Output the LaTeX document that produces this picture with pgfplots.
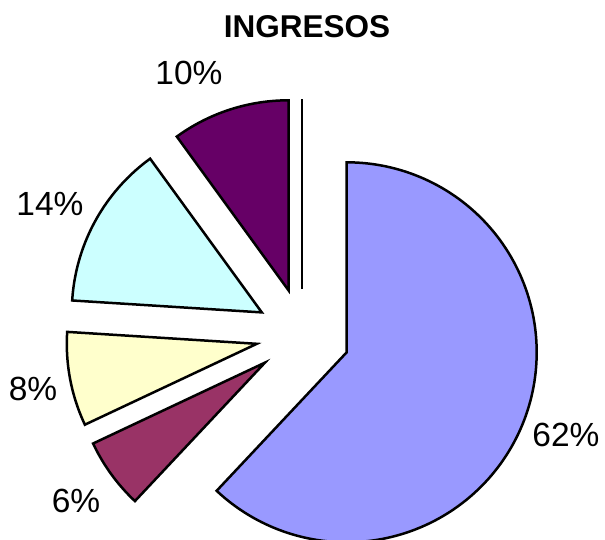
\documentclass[border=0pt]{standalone}
\usepackage{pgfplots}
\pgfplotsset{compat=1.18}
\usepackage{fontspec}
\setmainfont{Liberation Sans}
\definecolor{cA}{HTML}{9999FF}
\definecolor{cB}{HTML}{993366}
\definecolor{cC}{HTML}{FFFFCC}
\definecolor{cD}{HTML}{CCFFFF}
\definecolor{cE}{HTML}{660066}
\begin{document}
\begin{tikzpicture}
\begin{axis}[scale only axis, width=605pt, height=539pt,
  xmin=0, xmax=605, ymin=0, ymax=539, hide axis, clip=false]
% slices: 62, 6, 8, 14, 10, 0 (percent), clockwise from 12 o'clock, exploded
\addplot[fill=cA, draw=black, line width=2.5pt, domain=90-3.6*62:90, samples=150]
  ({346.7+190*cos(x)},{186.7+190*sin(x)}) -- (axis cs:346.7,186.7) -- cycle;
\addplot[fill=cB, draw=black, line width=2.5pt, domain=90-3.6*68:90-3.6*62, samples=30]
  ({265.0+190*cos(x)},{176.4+190*sin(x)}) -- (axis cs:265.0,176.4) -- cycle;
\addplot[fill=cC, draw=black, line width=2.5pt, domain=90-3.6*76:90-3.6*68, samples=30]
  ({256.8+190*cos(x)},{195.2+190*sin(x)}) -- (axis cs:256.8,195.2) -- cycle;
\addplot[fill=cD, draw=black, line width=2.5pt, domain=90-3.6*90:90-3.6*76, samples=50]
  ({261.8+190*cos(x)},{226.6+190*sin(x)}) -- (axis cs:261.8,226.6) -- cycle;
\addplot[fill=cE, draw=black, line width=2.5pt, domain=90-3.6*100:90-3.6*90, samples=40]
  ({288.5+190*cos(x)},{248.7+190*sin(x)}) -- (axis cs:288.5,248.7) -- cycle;
\addplot[draw=black, line width=2.8pt] coordinates {(302,250) (302,440)};
% labels
\node[anchor=base, font=\bfseries\fontsize{31.5}{36}\selectfont] at (axis cs:307,501) {INGRESOS};
\node[anchor=base, font=\fontsize{33.5}{40}\selectfont] at (axis cs:566,93) {62\%};
\node[anchor=base, font=\fontsize{33.5}{40}\selectfont] at (axis cs:76,27) {6\%};
\node[anchor=base, font=\fontsize{33.5}{40}\selectfont] at (axis cs:33,139) {8\%};
\node[anchor=base, font=\fontsize{33.5}{40}\selectfont] at (axis cs:50,324) {14\%};
\node[anchor=base, font=\fontsize{33.5}{40}\selectfont] at (axis cs:189,454) {10\%};
\end{axis}
\pgfresetboundingbox
\path (0,0) rectangle (605pt,539pt);
\end{tikzpicture}
\end{document}
